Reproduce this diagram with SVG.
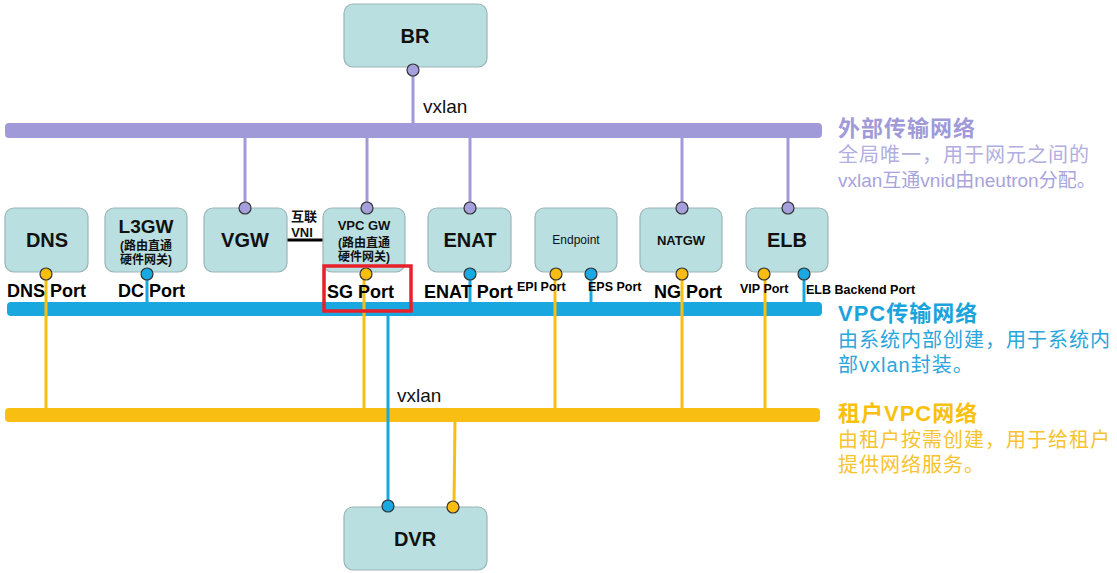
<svg xmlns="http://www.w3.org/2000/svg" width="1117" height="573" viewBox="0 0 1117 573">
<style>
.node{fill:#b9dfe0;stroke:#9cb4b5;stroke-width:1.2}
.nt{font-family:"Liberation Sans",Arial,sans-serif;font-weight:bold;fill:#111;text-anchor:middle}
.cj{font-family:"Liberation Sans","Noto Sans CJK SC",sans-serif;font-weight:bold;fill:#111;text-anchor:middle}
.pl{font-family:"Liberation Sans","Noto Sans CJK SC",sans-serif;font-weight:bold;fill:#000}
.pu{stroke:#a09ad8;stroke-width:3;fill:none}
.bl{stroke:#19a7e0;stroke-width:3;fill:none}
.or{stroke:#f8bf12;stroke-width:3;fill:none}
.cpu{fill:#a59fdc;stroke:#333;stroke-width:1.2}
.cbl{fill:#1aa8e2;stroke:#333;stroke-width:1.2}
.cor{fill:#f8bd10;stroke:#333;stroke-width:1.2}
.lbl{font-family:"Liberation Sans",Arial,sans-serif;font-size:19px;fill:#111}
.rt{font-family:"Liberation Sans","Noto Sans CJK SC",sans-serif;font-size:20px;letter-spacing:1px}
.rh{font-family:"Liberation Sans","Noto Sans CJK SC",sans-serif;font-size:22px;font-weight:bold;letter-spacing:1px}
</style>
<g id="buses">
<rect x="5" y="123" width="817" height="15" rx="4" fill="#a09ad8"/>
<rect x="7" y="302" width="815" height="14" rx="4" fill="#19a7e0"/>
<rect x="5" y="408" width="815" height="14" rx="4" fill="#f8bf12"/>
</g>
<g id="connectors">
<line class="pu" x1="413" y1="72" x2="413" y2="124"/>
<line class="pu" x1="245" y1="137" x2="245" y2="208"/>
<line class="pu" x1="367" y1="137" x2="367" y2="208"/>
<line class="pu" x1="470" y1="137" x2="470" y2="208"/>
<line class="pu" x1="682" y1="137" x2="682" y2="208"/>
<line class="pu" x1="788" y1="137" x2="788" y2="208"/>
<line stroke="#000" stroke-width="3" x1="287" y1="240" x2="323" y2="240"/>
<line class="or" x1="46" y1="276" x2="46" y2="409"/>
<line class="bl" x1="147" y1="276" x2="147" y2="303"/>
<line class="or" x1="364" y1="276" x2="364" y2="409"/>
<line class="bl" x1="470" y1="276" x2="470" y2="303"/>
<line class="or" x1="555" y1="276" x2="555" y2="409"/>
<line class="bl" x1="591" y1="276" x2="591" y2="303"/>
<line class="or" x1="682" y1="276" x2="682" y2="409"/>
<line class="or" x1="765" y1="276" x2="765" y2="409"/>
<line class="bl" x1="804" y1="276" x2="804" y2="303"/>
<line class="bl" x1="388" y1="315" x2="388" y2="506"/>
<line class="or" x1="455" y1="421" x2="454" y2="506"/>
</g>
<g id="BR"><rect class="node" x="344" y="4" width="143" height="63" rx="9"/><text class="nt" x="415" y="43" font-size="20">BR</text><circle class="cpu" cx="413" cy="70" r="6"/></g>
<text class="lbl" x="423" y="113">vxlan</text>
<g id="DNS"><rect class="node" x="5" y="208" width="83" height="64" rx="9"/><text class="nt" x="47" y="247" font-size="20">DNS</text><circle class="cor" cx="46" cy="274" r="6"/></g>
<g id="L3GW"><rect class="node" x="105" y="208" width="82" height="64" rx="9"/><text class="nt" x="146" y="233" font-size="19">L3GW</text><text class="cj" x="146" y="250" font-size="12">(路由直通</text><text class="cj" x="146" y="264" font-size="12">硬件网关)</text><circle class="cbl" cx="147" cy="274" r="6"/></g>
<g id="VGW"><rect class="node" x="204" y="208" width="83" height="64" rx="9"/><text class="nt" x="245" y="247" font-size="20">VGW</text><circle class="cpu" cx="245" cy="208" r="6"/></g>
<text class="cj" x="304" y="221" font-size="13">互联</text>
<text class="cj" x="302" y="237" font-size="13">VNI</text>
<g id="VPCGW"><rect class="node" x="323" y="208" width="82" height="64" rx="9"/><text class="nt" x="364" y="230" font-size="13">VPC GW</text><text class="cj" x="364" y="247" font-size="12">(路由直通</text><text class="cj" x="364" y="261" font-size="12">硬件网关)</text><circle class="cpu" cx="367" cy="208" r="6"/><circle class="cor" cx="366" cy="274" r="6"/></g>
<g id="ENAT"><rect class="node" x="428" y="208" width="83" height="64" rx="9"/><text class="nt" x="470" y="247" font-size="20">ENAT</text><circle class="cpu" cx="470" cy="208" r="6"/><circle class="cbl" cx="470" cy="274" r="6"/></g>
<g id="Endpoint"><rect class="node" x="535" y="208" width="82" height="64" rx="9"/><text x="576" y="244" font-size="12" font-family="Liberation Sans,Arial,sans-serif" fill="#111" text-anchor="middle">Endpoint</text><circle class="cor" cx="556" cy="274" r="6"/><circle class="cbl" cx="591" cy="274" r="6"/></g>
<g id="NATGW"><rect class="node" x="640" y="208" width="82" height="64" rx="9"/><text class="nt" x="681" y="245" font-size="13">NATGW</text><circle class="cpu" cx="682" cy="208" r="6"/><circle class="cor" cx="682" cy="274" r="6"/></g>
<g id="ELB"><rect class="node" x="746" y="208" width="82" height="64" rx="9"/><text class="nt" x="787" y="247" font-size="20">ELB</text><circle class="cpu" cx="788" cy="208" r="6"/><circle class="cor" cx="764" cy="274" r="6"/><circle class="cbl" cx="804" cy="274" r="6"/></g>
<g id="ports">
<text class="pl" x="7" y="297" font-size="18">DNS Port</text>
<text class="pl" x="118" y="297" font-size="18">DC Port</text>
<text class="pl" x="327" y="298" font-size="18">SG Port</text>
<text class="pl" x="424" y="298" font-size="18">ENAT Port</text>
<text class="pl" x="517" y="291" font-size="12.5">EPI Port</text>
<text class="pl" x="588" y="291" font-size="12.5">EPS Port</text>
<text class="pl" x="654" y="298" font-size="18">NG Port</text>
<text class="pl" x="740" y="293" font-size="12.5">VIP Port</text>
<text class="pl" x="806" y="294" font-size="12.5">ELB Backend Port</text>
</g>
<rect x="324" y="266" width="87" height="45" fill="none" stroke="#e8202a" stroke-width="3.5"/>
<text class="lbl" x="397" y="402">vxlan</text>
<g id="legend">
<text class="rh" x="838" y="136" fill="#a09ad8">外部传输网络</text>
<text class="rt" x="838" y="162" fill="#b2aee0">全局唯一，用于网元之间的</text>
<text x="838" y="187" fill="#a8a3dc" font-family="Liberation Sans,Noto Sans CJK SC,sans-serif" font-size="19">vxlan互通vnid由neutron分配。</text>
<text class="rh" x="838" y="321" fill="#1ba3dc">VPC传输网络</text>
<text class="rt" x="838" y="347" fill="#2aa6dc">由系统内部创建，用于系统内</text>
<text class="rt" x="838" y="372" fill="#2aa6dc">部vxlan封装。</text>
<text class="rh" x="838" y="421" fill="#f9c10e">租户VPC网络</text>
<text class="rt" x="838" y="447" fill="#f7c330">由租户按需创建，用于给租户</text>
<text class="rt" x="838" y="472" fill="#f7c330">提供网络服务。</text>
</g>
<g id="DVR"><rect class="node" x="344" y="507" width="143" height="63" rx="9"/><text class="nt" x="415" y="546" font-size="20">DVR</text><circle class="cbl" cx="388" cy="506" r="6"/><circle class="cor" cx="453" cy="507" r="6"/></g>
</svg>
